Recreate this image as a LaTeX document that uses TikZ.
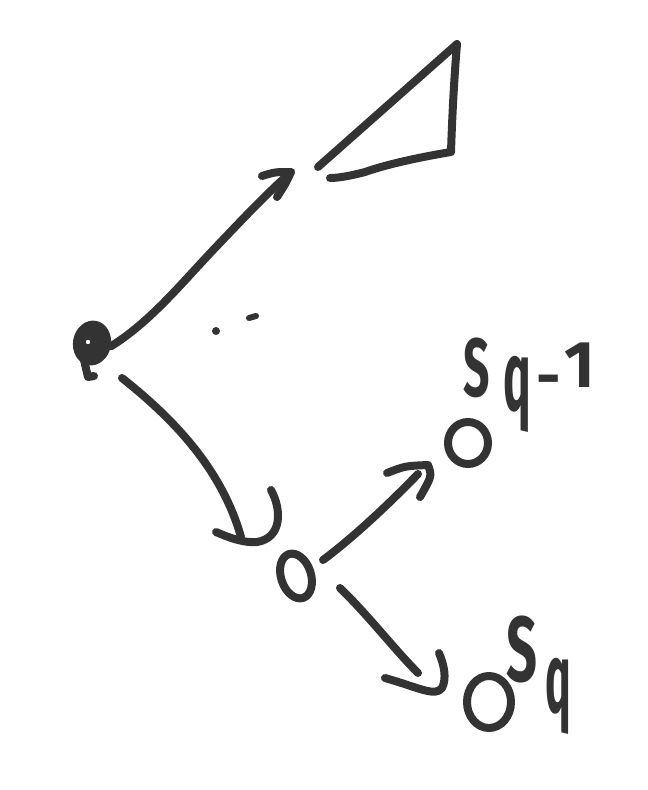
\documentclass[tikz,border=0pt]{standalone}
\usepackage{fontspec}
\setmainfont{Fira Sans}
\usetikzlibrary{shapes.geometric}
\definecolor{ink}{RGB}{51,51,51}
\begin{document}
\begin{tikzpicture}[x=1pt,y=-1pt,
  pen/.style={draw=ink,line width=8pt,line cap=round,line join=round},
  glyph/.style={text=ink,inner sep=0pt,font=\fontsize{66}{66}\selectfont\bfseries},
  ring/.style={ellipse,draw=ink,line width=8pt,inner sep=0pt}]
\useasboundingbox[fill=white] (0,0) rectangle (648,790);

% root blob
\node[ellipse,fill=ink,minimum width=38pt,minimum height=45pt,inner sep=0pt,rotate=-10] (root) at (92,343) {};
\draw[pen] (84,360) -- (88,377) -- (94,376);
\fill[white] (88,342) circle (2.2);

% nodes
\node[ring,minimum width=30pt,minimum height=46pt,rotate=18] (zero) at (296,576) {};
\node[ring,minimum width=40pt,minimum height=42pt] (sqm) at (468,443) {};
\node[ring,minimum width=44pt,minimum height=52pt] (sq) at (489,702) {};

% triangle
\coordinate (tri) at (318,167);
\draw[pen] (tri) -- (457,44) .. controls (454,80) and (452,120) .. (451,152)
  .. controls (415,158) and (385,165) .. (365,172) .. controls (350,176) and (338,178) .. (330,178);

% labels
\node[glyph] (ls1) at (477,368) {\scalebox{0.7}[1.25]{S}};
\node[glyph] (lq1) at (517,394) {\scalebox{0.7}[1.5]{q}};
\node[glyph,anchor=base,font=\fontsize{60}{60}\selectfont\bfseries] (lh1) at (549,397) {-};
\node[glyph] (l11) at (580,365) {1};
\node[glyph] (ls2) at (522,649) {\scalebox{0.82}[1.4]{S}};
\node[glyph] (lq2) at (558,696) {\scalebox{0.65}[1.5]{q}};

% dots
\fill[ink] (216,331) circle (4);
\draw[pen,line width=6pt] (249,318) -- (256,316);

% arrow 1
\coordinate (t1) at (291,172);
\draw[pen] (root.east) .. controls (150,322) and (180,285) .. (215,248) .. controls (240,222) and (262,198) .. (t1);
\draw[pen] (262,176) .. controls (275,172) .. (t1) .. controls (286,183) .. (277,197);

% arrow 2
\coordinate (s2) at (122,378);
\coordinate (t2) at (241,537);
\draw[pen] (s2) .. controls (175,420) and (222,470) .. (t2);
\draw[pen] (216,532) .. controls (232,539) and (245,543) .. (257,542) .. controls (282,538) and (282,510) .. (271,490);

% arrow 3
\coordinate (s3) at (323,560);
\coordinate (t3) at (428,465);
\draw[pen] (s3) .. controls (350,540) and (385,508) .. (418,474);
\draw[pen] (387,473) .. controls (405,466) .. (t3) .. controls (432,476) .. (420,497);

% arrow 4
\coordinate (s4) at (340,588);
\coordinate (t4) at (442,688);
\draw[pen] (s4) .. controls (368,615) and (395,650) .. (418,673);
\draw[pen] (385,678) .. controls (420,688) and (435,697) .. (t4) .. controls (447,678) and (444,665) .. (439,653);
\end{tikzpicture}
\end{document}
